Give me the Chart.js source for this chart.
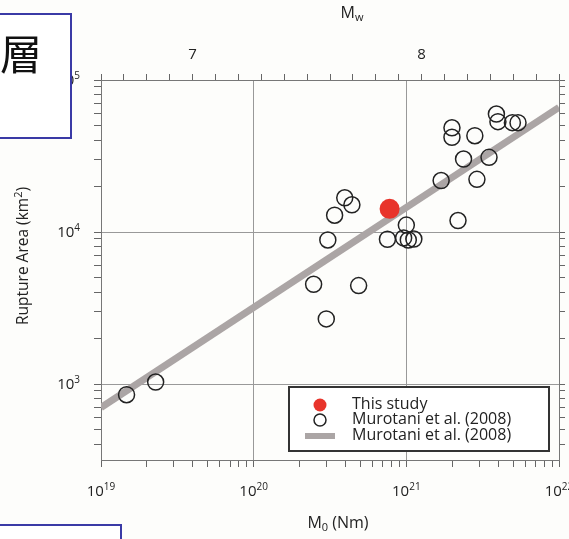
<!DOCTYPE html>
<html>
<head>
<meta charset="utf-8">
<script src="https://cdn.jsdelivr.net/npm/chart.js@4.4.0/dist/chart.umd.min.js"></script>
<style>
  html, body { margin: 0; padding: 0; background: #fdfdfb; }
  #wrap { width: 569px; height: 539px; }
</style>
</head>
<body>
<div id="wrap"><canvas id="chart" width="569" height="539"></canvas></div>
<script>
// data (M0 in Nm, rupture area in km^2)
const thisStudyM0 = [7.77e20];
const thisStudyArea = [14200];

const murotaniM0 = [
  1.47e19, 2.28e19, 3.39e20, 3.95e20, 4.40e20, 3.06e20, 2.47e20, 4.87e20,
  2.99e20, 7.52e20, 1.00e21, 9.6e20, 1.03e21, 1.12e21, 1.69e21, 2.18e21,
  1.99e21, 1.99e21, 2.81e21, 2.37e21, 2.90e21, 3.48e21, 3.89e21, 3.98e21,
  4.95e21, 5.39e21,
];
const murotaniArea = [
  850, 1030, 12900, 16800, 15100, 8860, 4530, 4440,
  2680, 8960, 11100, 9140, 8860, 8990, 21800, 11900,
  48500, 42000, 43000, 30200, 22200, 31000, 59700, 53200,
  52400, 52400,
];

// scaling relation line, end points
const fitM0 = [1e19, 1e22];
const fitArea = [700, 66000];

// axes
const m0Decades = [19, 20, 21, 22];
const areaMinExp = 2.5;
const areaDecades = [3, 4, 5];
const mwLabels = [7, 8];

const labelThis = "This study";
const labelObs = "Murotani et al. (2008)";
const labelFit = "Murotani et al. (2008)";

const FONT = "'Open Sans', 'DejaVu Sans', sans-serif";
const INK = "#222";

function isDecade(v) {
  const l = Math.log10(v);
  return Math.abs(l - Math.round(l)) < 1e-6;
}
function logTicks(minExp, maxExp, minVal) {
  const out = [];
  for (let e = minExp; e < maxExp; e++) {
    for (let m = 1; m <= 9; m++) {
      const v = m * Math.pow(10, e);
      if (v >= minVal) out.push(v);
    }
  }
  out.push(Math.pow(10, maxExp));
  return out;
}
function toPoints(xs, ys) {
  return xs.map((x, i) => ({ x, y: ys[i] }));
}
// Mw = 2/3 (log10 M0 - 9.1)
function mw(m0) {
  return (2 / 3) * (Math.log10(m0) - 9.1);
}

const m0Min = Math.pow(10, m0Decades[0]);
const m0Max = Math.pow(10, m0Decades[m0Decades.length - 1]);
const areaMin = Math.pow(10, areaMinExp);
const areaMax = Math.pow(10, areaDecades[areaDecades.length - 1]);

// fixed axis sizes so the plot area sits where it does in the figure
function fit(size) {
  return function (scale) {
    if (scale.isHorizontal()) scale.height = size;
    else scale.width = size;
    scale.paddingLeft = 0;
    scale.paddingRight = 0;
    scale.paddingTop = 0;
    scale.paddingBottom = 0;
  };
}

const gridCommon = {
  tickLength: 7,
  tickColor: "#666",
  tickWidth: 1,
  lineWidth: 1,
};
const borderCommon = { color: "#777", width: 1 };
const decadeGrid = (c) => (c.tick && isDecade(c.tick.value) ? "#999" : "rgba(0,0,0,0)");

// text with sub / superscript pieces; align = center | right
function drawRich(ctx, parts, x, y, size, align) {
  const fontFor = (k) => (k === "n" ? size : Math.round(size * 0.68)) + "px " + FONT;
  const widths = parts.map(([t, k]) => {
    ctx.font = fontFor(k);
    return ctx.measureText(t).width;
  });
  const total = widths.reduce((a, b) => a + b, 0);
  let cx = align === "right" ? x - total : x - total / 2;
  ctx.textAlign = "left";
  ctx.textBaseline = "middle";
  parts.forEach(([t, k], i) => {
    ctx.font = fontFor(k);
    const dy = k === "sub" ? size * 0.32 : k === "sup" ? -size * 0.34 : 0;
    ctx.fillText(t, cx, y + dy);
    cx += widths[i];
  });
}

// decade labels "10^n" placed with the scales
const powerLabels = {
  id: "powerLabels",
  afterDraw(chart) {
    const { ctx } = chart;
    const xs = chart.scales.x;
    const ys = chart.scales.y;
    ctx.save();
    ctx.fillStyle = INK;
    m0Decades.forEach((e) => {
      const px = xs.getPixelForValue(Math.pow(10, e));
      drawRich(ctx, [["10", "n"], [String(e), "sup"]], px, xs.top + 32, 15, "center");
    });
    areaDecades.forEach((e) => {
      const py = ys.getPixelForValue(Math.pow(10, e));
      drawRich(ctx, [["10", "n"], [String(e), "sup"]], ys.right - 21, py + 1, 15, "right");
    });
    ctx.restore();
  },
};

const titlesPlugin = {
  id: "titles",
  afterDraw(chart) {
    const { ctx, chartArea } = chart;
    const midX = (chartArea.left + chartArea.right) / 2;
    const midY = (chartArea.top + chartArea.bottom) / 2;
    ctx.save();
    ctx.fillStyle = INK;
    drawRich(ctx, [["M", "n"], ["w", "sub"]], midX + 22, 13, 16, "center");
    drawRich(ctx, [["M", "n"], ["0", "sub"], [" (Nm)", "n"]], midX + 8, 523, 16, "center");
    ctx.translate(24, midY - 14);
    ctx.rotate(-Math.PI / 2);
    drawRich(ctx, [["Rupture Area (km", "n"], ["2", "sup"], [")", "n"]], 0, 0, 15.5, "center");
    ctx.restore();
  },
};

const legendPlugin = {
  id: "boxLegend",
  afterDatasetsDraw(chart) {
    const { ctx, chartArea } = chart;
    const ds = chart.data.datasets;
    const w = 260, h = 64;
    const left = chartArea.right - 10 - w;
    const top = chartArea.bottom - 9 - h;
    ctx.save();
    ctx.fillStyle = "#fff";
    ctx.fillRect(left, top, w, h);
    ctx.lineWidth = 2;
    ctx.strokeStyle = "#333";
    ctx.strokeRect(left, top, w, h);
    const sx = left + 31, tx = left + 63;
    const rows = [top + 18, top + 33, top + 49];
    // red dot
    ctx.beginPath();
    ctx.arc(sx, rows[0], 6.5, 0, Math.PI * 2);
    ctx.fillStyle = ds[0].backgroundColor;
    ctx.fill();
    // open circle
    ctx.beginPath();
    ctx.arc(sx, rows[1], 6, 0, Math.PI * 2);
    ctx.lineWidth = 1.5;
    ctx.strokeStyle = ds[1].borderColor;
    ctx.stroke();
    // line
    ctx.beginPath();
    ctx.moveTo(sx - 15, rows[2]);
    ctx.lineTo(sx + 15, rows[2]);
    ctx.lineWidth = 6;
    ctx.strokeStyle = ds[2].borderColor;
    ctx.stroke();
    ctx.fillStyle = INK;
    ctx.font = "16px " + FONT;
    ctx.textAlign = "left";
    ctx.textBaseline = "middle";
    ds.forEach((d, i) => ctx.fillText(d.label, tx, rows[i] - 1));
    ctx.restore();
  },
};

// the two framed boxes that overlap the figure
const framesPlugin = {
  id: "frames",
  afterDraw(chart) {
    const { ctx } = chart;
    ctx.save();
    ctx.lineWidth = 2;
    ctx.strokeStyle = "#3a3aa6";
    ctx.fillStyle = "#fff";
    ctx.fillRect(-2, 14, 73, 124);
    ctx.strokeRect(-2, 14, 73, 124);
    ctx.fillRect(-2, 525, 123, 30);
    ctx.strokeRect(-2, 525, 123, 30);
    ctx.fillStyle = "#111";
    ctx.font = "42px 'Noto Sans CJK JP'";
    ctx.textAlign = "center";
    ctx.textBaseline = "middle";
    ctx.fillText("層", 21, 54);
    ctx.restore();
  },
};

new Chart(document.getElementById("chart"), {
  type: "scatter",
  data: {
    datasets: [
      {
        label: labelThis,
        data: toPoints(thisStudyM0, thisStudyArea),
        pointRadius: 10,
        pointBorderWidth: 0,
        backgroundColor: "#e8342b",
        borderColor: "#e8342b",
        order: 1,
      },
      {
        label: labelObs,
        data: toPoints(murotaniM0, murotaniArea),
        pointRadius: 8,
        pointBorderWidth: 1.5,
        backgroundColor: "rgba(0,0,0,0)",
        borderColor: "#222",
        order: 2,
      },
      {
        type: "line",
        label: labelFit,
        data: toPoints(fitM0, fitArea),
        borderColor: "#aba5a5",
        borderWidth: 7,
        pointRadius: 0,
        fill: false,
        order: 3,
      },
    ],
  },
  options: {
    responsive: false,
    animation: false,
    events: [],
    layout: { padding: 0 },
    plugins: {
      legend: { display: false },
      tooltip: { enabled: false },
    },
    scales: {
      x: {
        type: "logarithmic",
        position: "bottom",
        min: m0Min,
        max: m0Max,
        afterBuildTicks(scale) {
          scale.ticks = logTicks(m0Decades[0], m0Decades[m0Decades.length - 1], m0Min).map((v) => ({ value: v }));
        },
        afterFit: fit(79),
        ticks: { autoSkip: false, maxRotation: 0, minRotation: 0, callback: () => "" },
        grid: { ...gridCommon, color: decadeGrid },
        border: borderCommon,
      },
      mw: {
        type: "linear",
        position: "top",
        min: mw(m0Min),
        max: mw(m0Max),
        afterBuildTicks(scale) {
          const t = [];
          for (let i = 0; i <= 20; i++) t.push({ value: Math.round((scale.min + i * 0.1) * 10) / 10 });
          scale.ticks = t;
        },
        afterFit: fit(80),
        ticks: {
          autoSkip: false,
          maxRotation: 0,
          padding: 10,
          color: INK,
          font: { family: FONT, size: 15 },
          callback: (v) => (mwLabels.includes(v) ? String(v) : ""),
        },
        grid: { ...gridCommon, tickLength: 6, drawOnChartArea: false },
        border: borderCommon,
      },
      y: {
        type: "logarithmic",
        position: "left",
        min: areaMin,
        max: areaMax,
        afterBuildTicks(scale) {
          scale.ticks = logTicks(2, areaDecades[areaDecades.length - 1], areaMin).map((v) => ({ value: v }));
        },
        afterFit: fit(101),
        ticks: { autoSkip: false, callback: () => "" },
        grid: { ...gridCommon, color: decadeGrid },
        border: borderCommon,
      },
      y2: {
        type: "logarithmic",
        position: "right",
        min: areaMin,
        max: areaMax,
        afterBuildTicks(scale) {
          scale.ticks = logTicks(2, areaDecades[areaDecades.length - 1], areaMin).map((v) => ({ value: v }));
        },
        afterFit: fit(10),
        ticks: { autoSkip: false, callback: () => "" },
        grid: { ...gridCommon, tickLength: 6, drawOnChartArea: false },
        border: borderCommon,
      },
    },
  },
  plugins: [legendPlugin, powerLabels, titlesPlugin, framesPlugin],
});
</script>
</body>
</html>
